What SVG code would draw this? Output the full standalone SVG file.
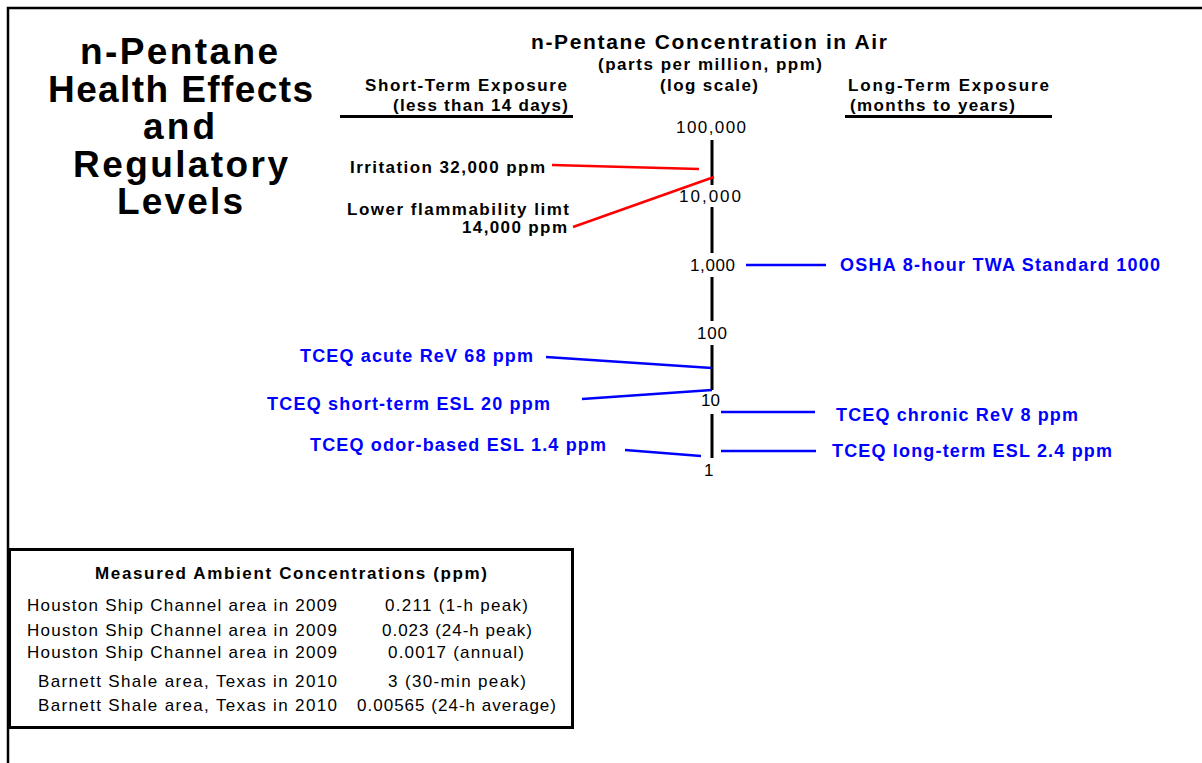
<svg xmlns="http://www.w3.org/2000/svg" width="1202" height="763" viewBox="0 0 1202 763">
<style>
text{font-family:"Liberation Sans",Arial,sans-serif;}
.b{font-weight:bold;}
.ttl{font-size:37px;font-weight:bold;fill:#000;}
.hd{font-size:17px;font-weight:bold;fill:#000;}
.ax{font-size:17px;fill:#000;}
.bl{font-size:18px;font-weight:bold;fill:#0000ff;}
.tb{font-size:17px;fill:#000;}
.red{stroke:#ff0000;stroke-width:2.5;fill:none;}
.blu{stroke:#0000ff;stroke-width:2.5;fill:none;}
.axis{stroke:#000;stroke-width:3;fill:none;}
</style>
<rect x="0" y="0" width="1202" height="763" fill="#fff"/>
<path d="M8,763 V8 H1202" stroke="#000" stroke-width="2.5" fill="none"/>
<g id="title">
<text class="ttl" x="80" y="64" textLength="198" lengthAdjust="spacing">n-Pentane</text>
<text class="ttl" x="48" y="102" textLength="265" lengthAdjust="spacing">Health Effects</text>
<text class="ttl" x="143" y="139" textLength="72" lengthAdjust="spacing">and</text>
<text class="ttl" x="73" y="177" textLength="215" lengthAdjust="spacing">Regulatory</text>
<text class="ttl" x="117" y="214" textLength="126" lengthAdjust="spacing">Levels</text>
</g>
<g id="header">
<text class="hd" style="font-size:21px" x="531" y="49" textLength="356" lengthAdjust="spacing">n-Pentane Concentration in Air</text>
<text class="hd" x="598" y="70" textLength="224" lengthAdjust="spacing">(parts per million, ppm)</text>
<text class="hd" x="660" y="91" textLength="98" lengthAdjust="spacing">(log scale)</text>
</g>
<g id="short-term">
<text class="hd" x="365" y="91" textLength="202" lengthAdjust="spacing">Short-Term Exposure</text>
<text class="hd" x="393" y="111" textLength="175" lengthAdjust="spacing">(less than 14 days)</text>
<line x1="340" y1="116.5" x2="573" y2="116.5" stroke="#000" stroke-width="3"/>
</g>
<g id="long-term">
<text class="hd" x="848" y="91" textLength="201" lengthAdjust="spacing">Long-Term Exposure</text>
<text class="hd" x="850" y="111" textLength="165" lengthAdjust="spacing">(months to years)</text>
<line x1="845" y1="116.5" x2="1052" y2="116.5" stroke="#000" stroke-width="3"/>
</g>
<g id="axis">
<path class="axis" d="M712,140 V185 M712,207 V253 M712,277 V321 M712,345 V390 M712,414 V458"/>
<text class="ax" x="676" y="133" textLength="70" lengthAdjust="spacing">100,000</text>
<text class="ax" x="679" y="202" textLength="62" lengthAdjust="spacing">10,000</text>
<text class="ax" x="690" y="271" textLength="45" lengthAdjust="spacing">1,000</text>
<text class="ax" x="697" y="339" textLength="30" lengthAdjust="spacing">100</text>
<text class="ax" x="701" y="406" textLength="19" lengthAdjust="spacing">10</text>
<text class="ax" x="704" y="476">1</text>
</g>
<g id="connectors">
<line class="red" x1="552" y1="165" x2="699" y2="169"/>
<line class="red" x1="573" y1="227" x2="714" y2="177"/>
<line class="blu" x1="746" y1="265" x2="826" y2="265"/>
<line class="blu" x1="546" y1="357" x2="712" y2="368"/>
<line class="blu" x1="582" y1="399" x2="712" y2="390"/>
<line class="blu" x1="721" y1="412" x2="815" y2="412"/>
<line class="blu" x1="625" y1="450" x2="701" y2="456"/>
<line class="blu" x1="721" y1="451" x2="816" y2="451"/>
</g>
<g id="irritation">
<text class="hd" x="350" y="173" textLength="195" lengthAdjust="spacing">Irritation 32,000 ppm</text>
</g>
<g id="flammability">
<text class="hd" x="347" y="215" textLength="222" lengthAdjust="spacing">Lower flammability limt</text>
<text class="hd" x="462" y="233" textLength="105" lengthAdjust="spacing">14,000 ppm</text>
</g>
<g id="osha"><text class="bl" x="840" y="271" textLength="320" lengthAdjust="spacing">OSHA 8-hour TWA Standard 1000</text></g>
<g id="acute-rev"><text class="bl" x="300" y="362" textLength="233" lengthAdjust="spacing">TCEQ acute ReV 68 ppm</text></g>
<g id="short-esl"><text class="bl" x="267" y="410" textLength="283" lengthAdjust="spacing">TCEQ short-term ESL 20 ppm</text></g>
<g id="chronic-rev"><text class="bl" x="836" y="421" textLength="242" lengthAdjust="spacing">TCEQ chronic ReV 8 ppm</text></g>
<g id="odor-esl"><text class="bl" x="310" y="451" textLength="296" lengthAdjust="spacing">TCEQ odor-based ESL 1.4 ppm</text></g>
<g id="long-esl"><text class="bl" x="832" y="457" textLength="280" lengthAdjust="spacing">TCEQ long-term ESL 2.4 ppm</text></g>
<g id="table">
<rect x="9.5" y="549.5" width="563" height="178" fill="none" stroke="#000" stroke-width="3"/>
<text class="tb b" x="95" y="579" textLength="392" lengthAdjust="spacing">Measured Ambient Concentrations (ppm)</text>
<text class="tb" x="27" y="611" textLength="310" lengthAdjust="spacing">Houston Ship Channel area in 2009</text>
<text class="tb" x="27" y="636" textLength="310" lengthAdjust="spacing">Houston Ship Channel area in 2009</text>
<text class="tb" x="27" y="658" textLength="310" lengthAdjust="spacing">Houston Ship Channel area in 2009</text>
<text class="tb" x="38" y="687" textLength="299" lengthAdjust="spacing">Barnett Shale area, Texas in 2010</text>
<text class="tb" x="38" y="711" textLength="299" lengthAdjust="spacing">Barnett Shale area, Texas in 2010</text>
<text class="tb" x="385" y="611" textLength="143" lengthAdjust="spacing">0.211 (1-h peak)</text>
<text class="tb" x="382" y="636" textLength="150" lengthAdjust="spacing">0.023 (24-h peak)</text>
<text class="tb" x="388" y="658" textLength="136" lengthAdjust="spacing">0.0017 (annual)</text>
<text class="tb" x="388" y="687" textLength="138" lengthAdjust="spacing">3 (30-min peak)</text>
<text class="tb" x="357" y="711" textLength="199" lengthAdjust="spacing">0.00565 (24-h average)</text>
</g>
</svg>
